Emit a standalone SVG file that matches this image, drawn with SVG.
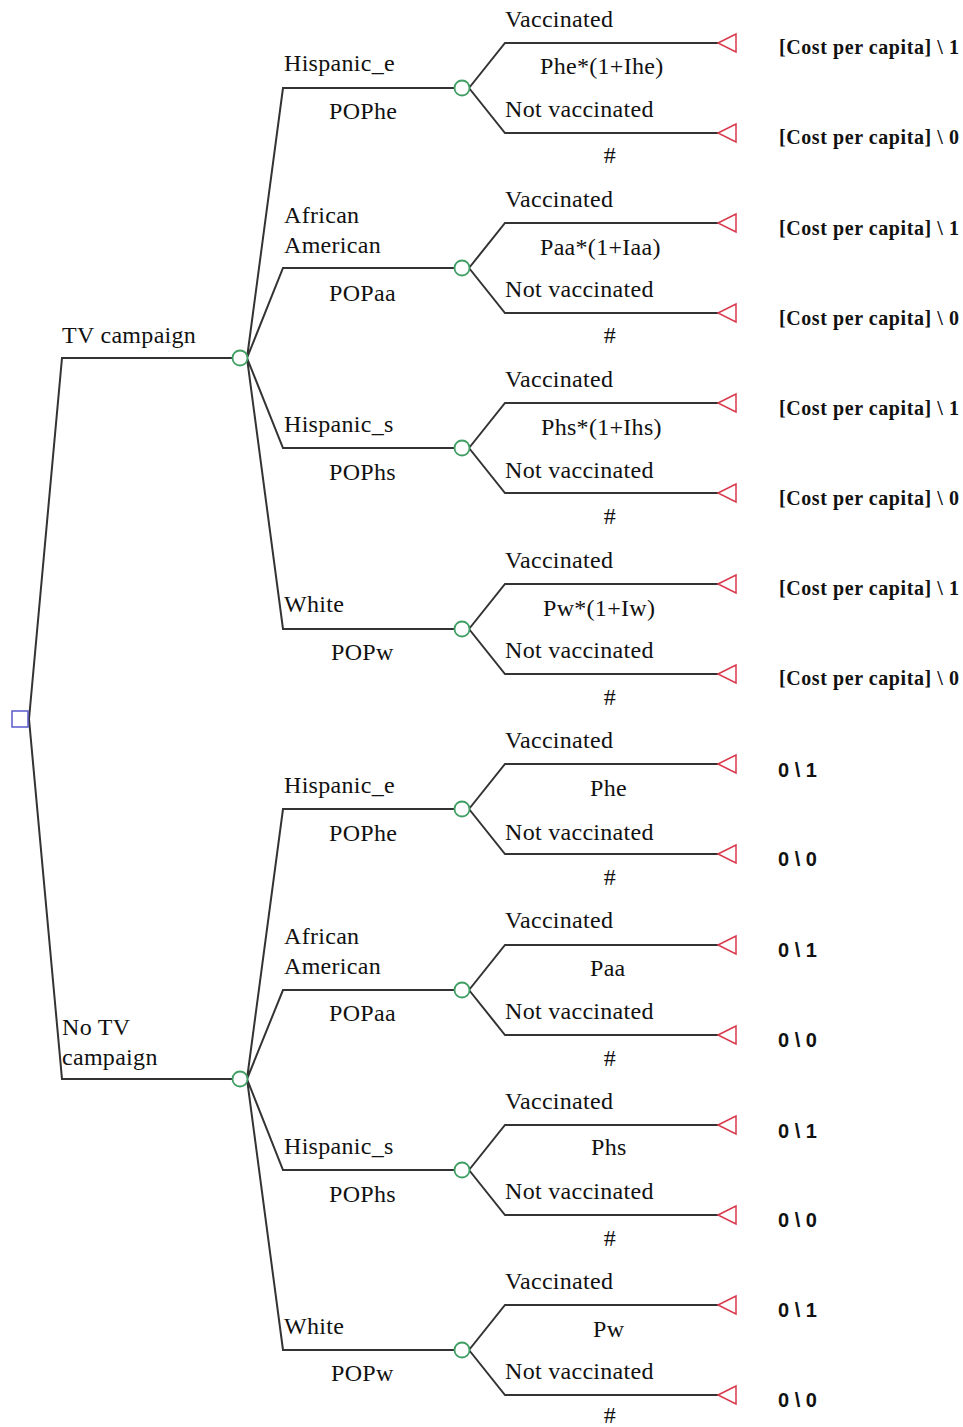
<svg xmlns="http://www.w3.org/2000/svg" width="963" height="1427" viewBox="0 0 963 1427">
<style>
.e{fill:none;stroke:#333;stroke-width:2;stroke-linejoin:miter}
.dec{fill:#fff;stroke:#5a5ad0;stroke-width:1.5}
.ch{fill:#fff;stroke:#3f9e63;stroke-width:1.8}
.tm{fill:#fff;stroke:#d9394c;stroke-width:1.5}
text{font-family:"Liberation Serif","Times New Roman",serif;font-size:24px;fill:#111;letter-spacing:0.3px}
.pay{font-weight:bold;font-size:20px;letter-spacing:0}
.z{font-family:"Liberation Sans",Arial,sans-serif;font-weight:bold;font-size:20px;letter-spacing:0}
</style>
<rect width="963" height="1427" fill="#fff"/>
<g id="connectors">
<path class="e" d="M29,719 L62,358 L233,358 M29,719 L62,1079 L233,1079"/>
<path class="e" d="M247,358 L283,88 L454,88 M247,358 L283,268 L454,268 M247,358 L283,448 L454,448 M247,358 L283,629 L454,629"/>
<path class="e" d="M247,1079 L283,809 L454,809 M247,1079 L283,990 L454,990 M247,1079 L283,1170 L454,1170 M247,1079 L283,1350 L454,1350"/>
<path class="e" d="M469,88 L505,43 L718,43 M469,88 L505,133 L718,133"/>
<path class="e" d="M469,268 L505,223 L718,223 M469,268 L505,313 L718,313"/>
<path class="e" d="M469,448 L505,403 L718,403 M469,448 L505,493 L718,493"/>
<path class="e" d="M469,629 L505,584 L718,584 M469,629 L505,674 L718,674"/>
<path class="e" d="M469,809 L505,764 L718,764 M469,809 L505,854 L718,854"/>
<path class="e" d="M469,990 L505,945 L718,945 M469,990 L505,1035 L718,1035"/>
<path class="e" d="M469,1170 L505,1125 L718,1125 M469,1170 L505,1215 L718,1215"/>
<path class="e" d="M469,1350 L505,1305 L718,1305 M469,1350 L505,1395 L718,1395"/>
</g>
<g id="decision"><rect class="dec" x="12" y="711" width="16" height="16"/></g>
<g id="tv">
<circle class="ch" cx="240" cy="358" r="7.5"/>
<text x="62" y="343">TV campaign</text>
</g>
<g id="notv">
<circle class="ch" cx="240" cy="1079" r="7.5"/>
<text x="62" y="1035">No TV</text>
<text x="62" y="1065">campaign</text>
</g>
<g id="tv-he">
<circle class="ch" cx="462" cy="88" r="7.5"/>
<text x="284" y="71">Hispanic_e</text><text x="329" y="119">POPhe</text>
<text x="505" y="27">Vaccinated</text><text x="540" y="74">Phe*(1+Ihe)</text>
<text x="505" y="117">Not vaccinated</text><text x="610" y="163" text-anchor="middle">#</text>
</g>
<g id="tv-aa">
<circle class="ch" cx="462" cy="268" r="7.5"/>
<text x="284" y="223">African</text><text x="284" y="253">American</text><text x="329" y="301">POPaa</text>
<text x="505" y="207">Vaccinated</text><text x="540" y="255">Paa*(1+Iaa)</text>
<text x="505" y="297">Not vaccinated</text><text x="610" y="343" text-anchor="middle">#</text>
</g>
<g id="tv-hs">
<circle class="ch" cx="462" cy="448" r="7.5"/>
<text x="284" y="432">Hispanic_s</text><text x="329" y="480">POPhs</text>
<text x="505" y="387">Vaccinated</text><text x="541" y="435">Phs*(1+Ihs)</text>
<text x="505" y="478">Not vaccinated</text><text x="610" y="524" text-anchor="middle">#</text>
</g>
<g id="tv-w">
<circle class="ch" cx="462" cy="629" r="7.5"/>
<text x="284" y="612">White</text><text x="331" y="660">POPw</text>
<text x="505" y="568">Vaccinated</text><text x="543" y="616">Pw*(1+Iw)</text>
<text x="505" y="658">Not vaccinated</text><text x="610" y="705" text-anchor="middle">#</text>
</g>
<g id="notv-he">
<circle class="ch" cx="462" cy="809" r="7.5"/>
<text x="284" y="793">Hispanic_e</text><text x="329" y="841">POPhe</text>
<text x="505" y="748">Vaccinated</text><text x="590" y="796">Phe</text>
<text x="505" y="840">Not vaccinated</text><text x="610" y="885" text-anchor="middle">#</text>
</g>
<g id="notv-aa">
<circle class="ch" cx="462" cy="990" r="7.5"/>
<text x="284" y="944">African</text><text x="284" y="974">American</text><text x="329" y="1021">POPaa</text>
<text x="505" y="928">Vaccinated</text><text x="590" y="976">Paa</text>
<text x="505" y="1019">Not vaccinated</text><text x="610" y="1066" text-anchor="middle">#</text>
</g>
<g id="notv-hs">
<circle class="ch" cx="462" cy="1170" r="7.5"/>
<text x="284" y="1154">Hispanic_s</text><text x="329" y="1202">POPhs</text>
<text x="505" y="1109">Vaccinated</text><text x="591" y="1155">Phs</text>
<text x="505" y="1199">Not vaccinated</text><text x="610" y="1246" text-anchor="middle">#</text>
</g>
<g id="notv-w">
<circle class="ch" cx="462" cy="1350" r="7.5"/>
<text x="284" y="1334">White</text><text x="331" y="1381">POPw</text>
<text x="505" y="1289">Vaccinated</text><text x="593" y="1337">Pw</text>
<text x="505" y="1379">Not vaccinated</text><text x="610" y="1423" text-anchor="middle">#</text>
</g>
<g id="terminals">
<polygon class="tm" points="718,43 736,34 736,52"/><text class="pay" x="779" y="54" textLength="180" lengthAdjust="spacing">[Cost per capita] \ 1</text>
<polygon class="tm" points="718,133 736,124 736,142"/><text class="pay" x="779" y="144" textLength="180" lengthAdjust="spacing">[Cost per capita] \ 0</text>
<polygon class="tm" points="718,223 736,214 736,232"/><text class="pay" x="779" y="235" textLength="180" lengthAdjust="spacing">[Cost per capita] \ 1</text>
<polygon class="tm" points="718,313 736,304 736,322"/><text class="pay" x="779" y="325" textLength="180" lengthAdjust="spacing">[Cost per capita] \ 0</text>
<polygon class="tm" points="718,403 736,394 736,412"/><text class="pay" x="779" y="415" textLength="180" lengthAdjust="spacing">[Cost per capita] \ 1</text>
<polygon class="tm" points="718,493 736,484 736,502"/><text class="pay" x="779" y="505" textLength="180" lengthAdjust="spacing">[Cost per capita] \ 0</text>
<polygon class="tm" points="718,584 736,575 736,593"/><text class="pay" x="779" y="595" textLength="180" lengthAdjust="spacing">[Cost per capita] \ 1</text>
<polygon class="tm" points="718,674 736,665 736,683"/><text class="pay" x="779" y="685" textLength="180" lengthAdjust="spacing">[Cost per capita] \ 0</text>
<polygon class="tm" points="718,764 736,755 736,773"/><text class="z" x="778" y="777">0 \ 1</text>
<polygon class="tm" points="718,854 736,845 736,863"/><text class="z" x="778" y="866">0 \ 0</text>
<polygon class="tm" points="718,945 736,936 736,954"/><text class="z" x="778" y="957">0 \ 1</text>
<polygon class="tm" points="718,1035 736,1026 736,1044"/><text class="z" x="778" y="1047">0 \ 0</text>
<polygon class="tm" points="718,1125 736,1116 736,1134"/><text class="z" x="778" y="1138">0 \ 1</text>
<polygon class="tm" points="718,1215 736,1206 736,1224"/><text class="z" x="778" y="1227">0 \ 0</text>
<polygon class="tm" points="718,1305 736,1296 736,1314"/><text class="z" x="778" y="1317">0 \ 1</text>
<polygon class="tm" points="718,1395 736,1386 736,1404"/><text class="z" x="778" y="1407">0 \ 0</text>
</g>
</svg>
